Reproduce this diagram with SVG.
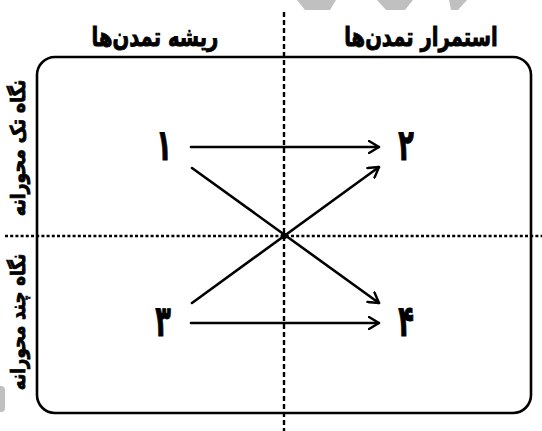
<svg xmlns="http://www.w3.org/2000/svg" width="542" height="431" viewBox="0 0 542 431">
<defs>
<style>
.frame{fill:none;stroke:#000;stroke-width:2.6}
.axis{stroke:#000;stroke-width:2.4;fill:none}
.arr{stroke:#000;stroke-width:2.6;fill:none;stroke-linecap:round}
.t{font-family:"DejaVu Sans",sans-serif;font-weight:bold;fill:#000;stroke:#000;stroke-width:0.7}
.num{font-family:"DejaVu Sans",sans-serif;font-weight:bold;font-size:32px;text-anchor:middle;fill:#000;stroke:#000;stroke-width:0.8}
.wm{fill:#c0c0c0}
</style>
<marker id="ah" viewBox="0 0 12 14" refX="11" refY="7" markerWidth="12" markerHeight="14" markerUnits="userSpaceOnUse" orient="auto">
<path d="M1,1 L11,7 L1,13" fill="none" stroke="#000" stroke-width="2.4" stroke-linecap="round" stroke-linejoin="round"/>
</marker>
</defs>
<rect width="542" height="431" fill="#fff"/>
<g id="watermark">
<polygon class="wm" points="297,0 336,0 330,10 305,10"/>
<polygon class="wm" points="377,0 413,0 405,10 386,10"/>
<polygon class="wm" points="449,0 467,0 458,10 451,10"/>
<rect class="wm" x="-6" y="386" width="11" height="26" rx="4"/>
</g>
<g id="frame">
<rect class="frame" x="37" y="57" width="494" height="356" rx="18" ry="18"/>
</g>
<g id="axes">
<line class="axis" x1="284" y1="12" x2="284" y2="431" stroke-dasharray="5,3"/>
<line class="axis" x1="5" y1="236" x2="542" y2="236" stroke-dasharray="3,2.2"/>
<circle cx="284" cy="236" r="3.2" fill="#000"/>
</g>
<g id="header-right"><text class="t" font-size="20" text-anchor="middle" direction="rtl" transform="translate(421,46) scale(0.98,1.3)">استمرار تمدن&#x200C;ها</text></g>
<g id="header-left"><text class="t" font-size="20" text-anchor="middle" direction="rtl" transform="translate(155,46) scale(0.98,1.3)">ریشه تمدن&#x200C;ها</text></g>
<g id="side-top"><text class="t" font-size="17" text-anchor="middle" direction="rtl" transform="translate(25,148) rotate(-90) scale(1.02,1.2)">نگاه تک محورانه</text></g>
<g id="side-bottom"><text class="t" font-size="17" text-anchor="middle" direction="rtl" transform="translate(25,322) rotate(-90) scale(0.98,1.2)">نگاه چند محورانه</text></g>
<g id="n1"><text class="num" transform="translate(164,160) scale(0.8,1.35)">۱</text></g>
<g id="n2"><text class="num" transform="translate(406,160) scale(0.8,1.35)">۲</text></g>
<g id="n3"><text class="num" transform="translate(163,336) scale(0.8,1.35)">۳</text></g>
<g id="n4"><text class="num" transform="translate(406,336) scale(0.8,1.35)">۴</text></g>
<g id="connectors">
<line class="arr" x1="191" y1="147" x2="379" y2="147" marker-end="url(#ah)"/>
<line class="arr" x1="192" y1="168" x2="379" y2="303" marker-end="url(#ah)"/>
<line class="arr" x1="192" y1="303" x2="379" y2="167" marker-end="url(#ah)"/>
<line class="arr" x1="191" y1="323" x2="379" y2="323" marker-end="url(#ah)"/>
</g>
</svg>
